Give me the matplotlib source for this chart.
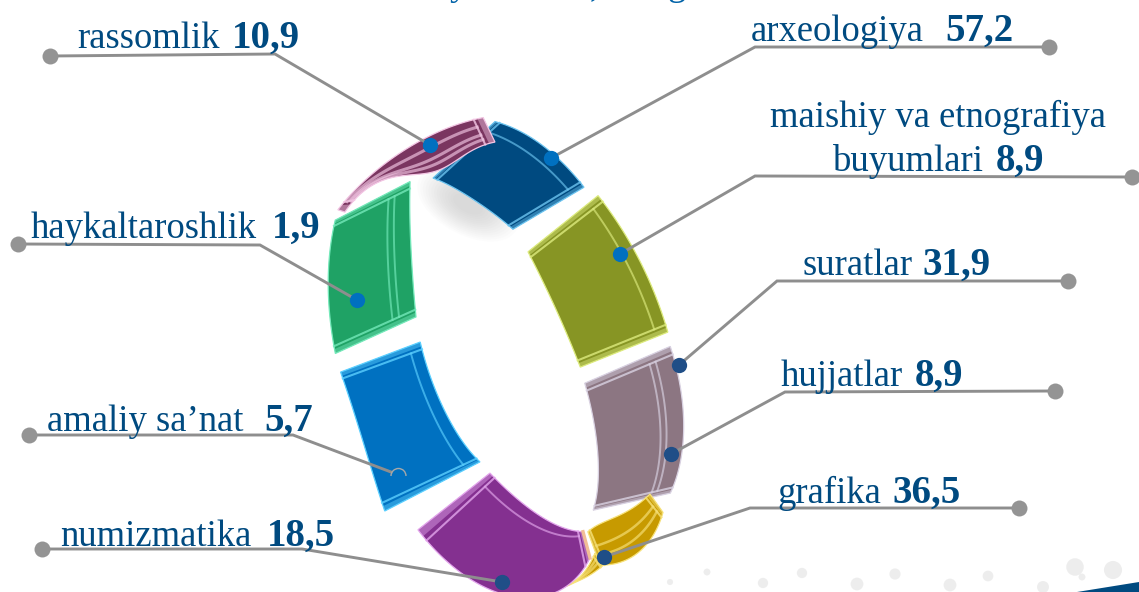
import numpy as np
import matplotlib
matplotlib.use("Agg")
import matplotlib.pyplot as plt
from matplotlib.patches import Ellipse, Arc

# ---- data ----
categories = ["rassomlik", "arxeologiya", "maishiy va etnografiya\nbuyumlari", "suratlar",
              "hujjatlar", "grafika", "numizmatika", "amaliy sa\u2019nat", "haykaltaroshlik"]
values = ["10,9", "57,2", "8,9", "31,9", "8,9", "36,5", "18,5", "5,7", "1,9"]

# ---- layout of labels (pixels) ----
label_xy = [(77, 48), (751, 41), (833, 171), (803, 275), (781, 386), (777, 503), (60, 546), (47, 431), (31, 238)]
bold_x = [232, 945, 996, 922, 915, 892, 267, 264, 272]
leader_pts = [
    [(50, 56), (275, 54), (430, 145)],
    [(1049, 47), (755, 47), (551, 158)],
    [(1132, 177), (755, 176), (620, 254)],
    [(1068, 281), (777, 281), (679, 365)],
    [(1055, 391), (785, 392), (671, 454)],
    [(1019, 508), (750, 508), (604, 557)],
    [(42, 549), (302, 549), (502, 582)],
    [(29, 435), (293, 435), (391, 472)],
    [(18, 244), (260, 245), (357, 300)],
]
tip_colors = ["#0070C0", "#0070C0", "#0070C0", "#1F4E87", "#1F4E87", "#1F4E87", "#1F4E87", None, "#0070C0"]

# ---- ring: ellipse maps and per-segment arcs (t1, t2, s1, sm, s2) ----
O_C, O_M = np.array([505., 352.]), np.array([[177., 0.], [80., 224.]])
I_C, I_M = np.array([498., 350.]), np.array([[87., 0.], [100., 143.]])
seg_names = ["navy", "maroon", "olive", "taupe", "gold_tail", "gold", "blue", "purple", "green"]
seg_outer = [(-93.2, -63.5, 1.01, 1.02, 1.0), (197.5, 263, .99, .90, 1.01), (-59.3, -24.4, 1.03, 1.02, 1.01),
             (-21, 17.6, 1.0, 1.01, .98), (53.7, 77.8, .936, .97, 1.0), (24, 54.7, .977, .98, .93),
             (155.6, 125.5, 1.02, 1.05, 1.17), (116.9, 57.3, 1.087, 1.075, .889), (160, 194.4, 1.02, 1.0, .99)]
seg_inner = [(-137.7, -79.9, 1.01, .9, .98), (171.4, 268.6, 1.78, 1.05, 1.43), (-69.6, -29.8, .99, 1.0, 1.09),
             (-25, 18, 1.1, 1.15, 1.15), (29.9, 64.6, 1.286, 1.33, 1.39), (-7, 28, 1.76, 1.35, 1.17),
             (147.5, 102.6, 1.06, 1.05, .95), (95.7, 31, .93, .94, 1.14), (155.6, 205, 1.035, 1.0, 1.115)]
seg_face = ["#004A80", "#7A3560", "#879524", "#8C7682", "#C79A00", "#C79A00", "#0071C1", "#843090", "#1FA265"]
seg_light = ["#6CC4F0", "#F3C6E4", "#DDEB7E", "#D9D2E2", "#F7E27A", "#F7E27A", "#5CD0FF", "#E3A6EC", "#74E9BA"]
seg_ridge = [(.17,), (.3, .62, .8), (.13,), (.2, .27), (.4, .7), (.3, .55), (.86,), (.86,), (.72, .8)]
seg_ridge_lw = [1.4, 2.2, 1.4, 1.4, 1.8, 1.8, 1.4, 1.4, 1.4]


def arc(params, C, M, p):
    t1, t2, s1, sm, s2 = params
    t = np.radians(t1 + (t2 - t1) * p)
    s = s1 * (1 - p) * (1 - 2 * p) + sm * 4 * p * (1 - p) + s2 * p * (2 * p - 1)
    return C + (M @ np.vstack([np.cos(t), np.sin(t)])).T * s[:, None]


def surf(o, i, p, f):
    f = np.broadcast_to(f, p.shape)[:, None]
    return arc(o, O_C, O_M, p) * (1 - f) + arc(i, I_C, I_M, p) * f


fig = plt.figure(figsize=(11.39, 5.92), dpi=100)
ax = fig.add_axes([0, 0, 1, 1])
ax.set_xlim(0, 1139)
ax.set_ylim(592, 0)
ax.axis("off")
plt.rcParams["font.family"] = ["Liberation Serif", "DejaVu Serif"]

# background decoration
dots_x = [707, 670, 802, 763, 895, 857, 988, 950, 1075, 1113, 1043, 1082]
dots_y = [572, 582, 573, 583, 574, 584, 576, 585, 567, 570, 587, 577]
dots_s = [25, 20, 55, 55, 65, 85, 60, 85, 160, 170, 75, 25]
ax.scatter(dots_x, dots_y, s=dots_s, color="#d9d9d9", alpha=.45, lw=0, zorder=0)
ax.fill([1077, 1139, 1139], [592, 582, 592], color="#004A80", lw=0, zorder=1)

# soft shadow under the navy block
for k in range(14):
    ax.add_patch(Ellipse((468, 204), 110 - k * 6, 62 - k * 3.5, angle=28, color="#808080", alpha=.02, lw=0, zorder=1))

# clipped line of text at the very top
for ch, x in zip(["y", ",", "g"], [450, 590, 667]):
    ax.text(x, -5, ch, fontsize=26.4, color="#0062A8", va="baseline", ha="left", zorder=1)

P = np.linspace(0, 1, 80)
for z, (o, i, face, light, ridges, rlw) in enumerate(zip(seg_outer, seg_inner, seg_face, seg_light, seg_ridge, seg_ridge_lw)):
    z0 = 3 + z
    poly = np.vstack([arc(o, O_C, O_M, P), arc(i, I_C, I_M, P)[::-1]])
    ax.fill(poly[:, 0], poly[:, 1], facecolor=face, edgecolor=light, lw=.9, zorder=z0, joinstyle="miter")
    # ridges running along the arc
    for r in ridges:
        pts = surf(o, i, np.linspace(.05, .95, 60), r)
        ax.plot(pts[:, 0], pts[:, 1], color=light, lw=rlw, alpha=.65, zorder=z0)
    # bevel bands and bright lines on both short ends
    F = np.linspace(0, 1, 12)
    for a, b, c in [(0., .03, .05), (.97, 1., .95)]:
        q = np.vstack([surf(o, i, np.full(12, a), F), surf(o, i, np.full(12, b), F)[::-1]])
        ax.fill(q[:, 0], q[:, 1], color=light, alpha=.45, lw=0, zorder=z0)
        e = surf(o, i, np.full(12, c), F)
        ax.plot(e[:, 0], e[:, 1], color=light, lw=1.5, alpha=.8, zorder=z0)

# peach sliver where the purple block meets the gold one
purple = seg_names.index("purple")
sl = surf(seg_outer[purple], seg_inner[purple], np.full(12, 1.0), np.linspace(0, 1, 12))
ax.plot(sl[:, 0], sl[:, 1], color="#F2BE96", lw=2.4, zorder=13)

# leader lines, end dots
for pts, tip in zip(leader_pts, tip_colors):
    xs, ys = zip(*pts)
    ax.plot(xs, ys, color="#8E8E8E", lw=2.1, solid_joinstyle="miter", zorder=20)
    ax.plot(xs[0], ys[0], "o", color="#949494", ms=11.5, mew=0, zorder=21)
    if tip:
        ax.plot(xs[-1], ys[-1], "o", color=tip, ms=11, mew=0, zorder=21)
    else:
        ax.add_patch(Arc((xs[-1] + 7.5, ys[-1] + 4), 15, 15, theta1=180, theta2=360, color="#A8A8A8", lw=1, zorder=21))

# labels
TXT = "#004A80"
REG, BOLD = 26.4, 28
for cat, val, (x, y), bx in zip(categories, values, label_xy, bold_x):
    lines = cat.split("\n")
    if len(lines) == 2:
        ax.text(770, 127, lines[0], fontsize=REG, color=TXT, va="baseline", zorder=22)
    ax.text(x, y, lines[-1], fontsize=REG, color=TXT, va="baseline", zorder=22)
    ax.text(bx, y, val, fontsize=BOLD, color=TXT, fontweight="bold", va="baseline", zorder=22)

fig.savefig("out.png", dpi=100)
